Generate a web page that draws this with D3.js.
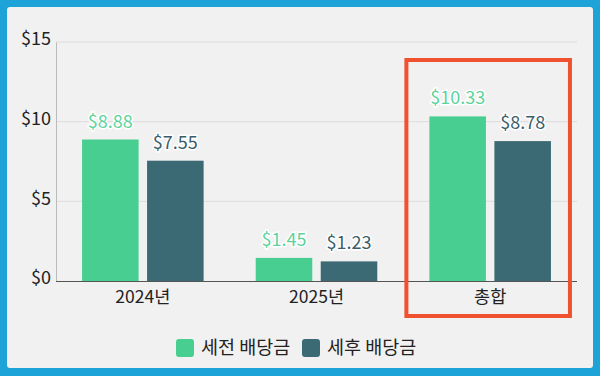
<!DOCTYPE html>
<html>
<head>
<meta charset="utf-8">
<script src="https://cdn.jsdelivr.net/npm/d3@7"></script>
<style>
  html, body { margin: 0; padding: 0; background: #1ea3d8; }
  svg { display: block; }
  text { font-family: "Noto Sans CJK KR", "Noto Sans", sans-serif; }
</style>
</head>
<body>
<div id="container"></div>
<script>
const WIDTH = 600;
const HEIGHT = 376;

// chart data
const categories = ["2024년", "2025년", "총합"];
const seriesNames = ["세전 배당금", "세후 배당금"];
const preTax = [8.88, 1.45, 10.33];
const postTax = [7.55, 1.23, 8.78];
const yTicks = [0, 5, 10, 15];
const highlightCategory = "총합";

const COLORS = ["#48ce90", "#3b6a74"];
const LABEL_COLORS = ["#5cd39d", "#3a5d69"];

const PLOT = { left: 56, right: 577, top: 42, bottom: 281 };

var translate = function (x, y) {
    return "translate(" + x + "," + y + ")";
};

var createChart = function () {
    var svg = d3.select("#container")
        .append("svg")
        .attr("width", WIDTH)
        .attr("height", HEIGHT);

    // blue frame + paper card
    svg.append("rect")
        .attr("width", WIDTH).attr("height", HEIGHT)
        .attr("fill", "#1ea3d8");
    svg.append("rect")
        .attr("x", 7).attr("y", 7)
        .attr("width", 586).attr("height", 361)
        .attr("rx", 3)
        .attr("fill", "#f1f1f1");

    var rows = categories.map(function (c, i) {
        return { cat: c, values: [preTax[i], postTax[i]] };
    });

    var x0 = d3.scaleBand()
        .domain(categories)
        .range([PLOT.left, PLOT.right])
        .paddingInner(0.3)
        .paddingOuter(0.15);

    var x1 = d3.scaleBand()
        .domain([0, 1])
        .range([0, x0.bandwidth()])
        .paddingInner(0.13);

    var y = d3.scaleLinear()
        .domain([0, 15])
        .range([PLOT.bottom, PLOT.top]);

    // gridlines
    svg.append("g")
        .selectAll("line")
        .data(yTicks.filter(function (t) { return t > 0; }))
        .enter()
        .append("line")
        .attr("x1", PLOT.left).attr("x2", PLOT.right)
        .attr("y1", function (d) { return y(d); })
        .attr("y2", function (d) { return y(d); })
        .attr("stroke", "#dcdcdc")
        .attr("stroke-width", 1);

    // y axis
    var yAxis = d3.axisLeft(y)
        .tickValues(yTicks)
        .tickSize(0)
        .tickPadding(5)
        .tickFormat(function (d) { return "$" + d; });

    var gy = svg.append("g")
        .attr("transform", translate(PLOT.left, 0))
        .call(yAxis);
    gy.select(".domain").attr("stroke", "#bbbbbb");
    gy.selectAll("text")
        .attr("font-size", 18)
        .attr("fill", "#222")
        .attr("dy", "0.15em");

    // bars
    var groups = svg.append("g")
        .selectAll("g")
        .data(rows)
        .enter()
        .append("g")
        .attr("transform", function (d) { return translate(x0(d.cat), 0); });

    groups.selectAll("rect")
        .data(function (d) { return d.values; })
        .enter()
        .append("rect")
        .attr("x", function (d, i) { return x1(i); })
        .attr("y", function (d) { return y(d); })
        .attr("width", x1.bandwidth())
        .attr("height", function (d) { return y(0) - y(d); })
        .attr("fill", function (d, i) { return COLORS[i]; });

    groups.selectAll("text.val")
        .data(function (d) { return d.values; })
        .enter()
        .append("text")
        .attr("class", "val")
        .attr("x", function (d, i) { return x1(i) + x1.bandwidth() / 2; })
        .attr("y", function (d) { return y(d) - 12; })
        .attr("text-anchor", "middle")
        .attr("font-size", 18)
        .attr("fill", function (d, i) { return LABEL_COLORS[i]; })
        .attr("stroke", "#ffffff")
        .attr("stroke-width", 3)
        .attr("paint-order", "stroke")
        .text(function (d) { return "$" + d.toFixed(2); });

    // x axis
    var xAxis = d3.axisBottom(x0).tickSize(0).tickPadding(10);
    var gx = svg.append("g")
        .attr("transform", translate(0, PLOT.bottom))
        .call(xAxis);
    gx.select(".domain").attr("stroke", "#555").attr("d", "M" + PLOT.left + ",0.5H" + PLOT.right);
    gx.selectAll("text")
        .attr("font-size", 17.5)
        .attr("fill", "#222");

    // highlight box
    var hx = x0(highlightCategory);
    svg.append("rect")
        .attr("x", hx - 23)
        .attr("y", 60)
        .attr("width", x0.bandwidth() + 42)
        .attr("height", 256)
        .attr("fill", "none")
        .attr("stroke", "#f0522f")
        .attr("stroke-width", 4);

    // legend
    var legend = svg.append("g")
        .attr("transform", translate(176, 348));
    var lx = [0, 126];
    var items = legend.selectAll("g")
        .data(seriesNames)
        .enter()
        .append("g")
        .attr("transform", function (d, i) { return translate(lx[i], 0); });
    items.append("rect")
        .attr("x", 0).attr("y", -9)
        .attr("width", 18).attr("height", 18)
        .attr("rx", 3)
        .attr("fill", function (d, i) { return COLORS[i]; });
    items.append("text")
        .attr("x", 25)
        .attr("y", 0)
        .attr("dy", "0.35em")
        .attr("font-size", 18.5)
        .attr("fill", "#222")
        .text(function (d) { return d; });
};

window.onload = createChart;
</script>
</body>
</html>
